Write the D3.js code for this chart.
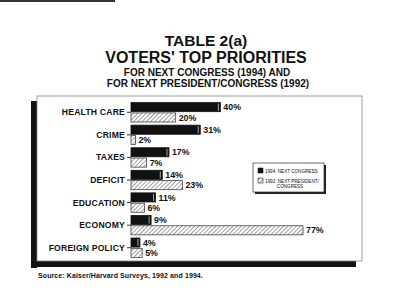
<!DOCTYPE html>
<html>
  <head>
    <meta charset="utf-8" />
    <title>Voters' Top Priorities</title>
    <script src="https://d3js.org/d3.v7.min.js"></script>
    <style>
      body { margin: 0; background: #fff; }
      text { font-family: "Liberation Sans", Arial, sans-serif; font-weight: bold; fill: #111; }
    </style>
  </head>
  <body>
    <svg id="chart"></svg>
    <script>
      var categories = ["HEALTH CARE", "CRIME", "TAXES", "DEFICIT", "EDUCATION", "ECONOMY", "FOREIGN POLICY"];
      var congress1994 = [40, 31, 17, 14, 11, 9, 4];
      var president1992 = [20, 2, 7, 23, 6, 77, 5];
      var seriesKeys = ["1994", "1992"];
      var legendLabels = [["1994: NEXT CONGRESS"], ["1992: NEXT PRESIDENT/", "CONGRESS"]];

      var width = 400, height = 306;
      var svg = d3.select("#chart").attr("width", width).attr("height", height);

      var defs = svg.append("defs");
      var pat = defs.append("pattern")
        .attr("id", "hatch")
        .attr("patternUnits", "userSpaceOnUse")
        .attr("width", 3).attr("height", 3)
        .attr("patternTransform", "rotate(45)");
      pat.append("rect").attr("width", 3).attr("height", 3).attr("fill", "#fff");
      pat.append("line").attr("x1", 0).attr("y1", 0).attr("x2", 0).attr("y2", 3)
        .attr("stroke", "#444").attr("stroke-width", 1);

      // titles
      svg.append("text").attr("x", 206).attr("y", 46).attr("text-anchor", "middle")
        .style("font-size", "15.5px").text("TABLE 2(a)");
      svg.append("text").attr("x", 206).attr("y", 63).attr("text-anchor", "middle")
        .style("font-size", "16px").text("VOTERS' TOP PRIORITIES");
      svg.append("text").attr("x", 207).attr("y", 76).attr("text-anchor", "middle")
        .style("font-size", "10px").text("FOR NEXT CONGRESS (1994) AND");
      svg.append("text").attr("x", 208).attr("y", 87).attr("text-anchor", "middle")
        .style("font-size", "10px").text("FOR NEXT PRESIDENT/CONGRESS (1992)");

      // frame with shadow
      svg.append("rect").attr("x", 31).attr("y", 101).attr("width", 6).attr("height", 167).attr("fill", "#111");
      svg.append("rect").attr("x", 31).attr("y", 261).attr("width", 325).attr("height", 6).attr("fill", "#111");
      svg.append("rect").attr("x", 37).attr("y", 96).attr("width", 325).attr("height", 165)
        .attr("fill", "#fff").attr("stroke", "#888").attr("stroke-width", 0.8);

      // scan smudge at top
      svg.append("rect").attr("x", 0).attr("y", 0).attr("width", 115).attr("height", 2).attr("fill", "#333");

      var x = d3.scaleLinear().domain([0, 77]).range([131, 303]);
      var y = d3.scaleBand().domain(categories).range([101, 259]).paddingInner(0.14).paddingOuter(0.07);
      var ySub = d3.scaleBand().domain(seriesKeys).range([0, y.bandwidth()]).paddingInner(0.12);

      var yAxis = d3.axisLeft(y).tickSize(4).tickPadding(2);
      var gy = svg.append("g").attr("transform", "translate(" + x(0) + ",0)").call(yAxis);
      gy.select(".domain").remove();
      gy.selectAll(".tick line").attr("stroke", "#333");
      gy.selectAll(".tick text").style("font-size", "8.6px").style("font-family", "Liberation Sans, Arial, sans-serif")
        .style("letter-spacing", "0.2px")
        .attr("fill", "#111").attr("dy", "0.35em");

      var rows = categories.map(function(c, i) {
        return [
          {cat: c, key: "1994", v: congress1994[i]},
          {cat: c, key: "1992", v: president1992[i]}
        ];
      });
      var flat = [].concat.apply([], rows);

      var bars = svg.append("g").selectAll("g").data(flat).enter().append("g");

      bars.append("rect")
        .attr("x", x(0))
        .attr("y", function(d) { return y(d.cat) + ySub(d.key); })
        .attr("width", function(d) { return x(d.v) - x(0); })
        .attr("height", ySub.bandwidth())
        .attr("fill", function(d) { return d.key === "1994" ? "#111" : "url(#hatch)"; })
        .attr("stroke", function(d) { return d.key === "1994" ? "#111" : "#444"; })
        .attr("stroke-width", 0.8);

      // light edge near the end of the solid bars
      bars.filter(function(d) { return d.key === "1994"; }).append("line")
        .attr("x1", function(d) { return x(d.v) - 2; })
        .attr("x2", function(d) { return x(d.v) - 2; })
        .attr("y1", function(d) { return y(d.cat) + ySub(d.key) + 1; })
        .attr("y2", function(d) { return y(d.cat) + ySub(d.key) + ySub.bandwidth() - 1; })
        .attr("stroke", "#ccc").attr("stroke-width", 0.8);

      bars.append("text")
        .attr("x", function(d) { return x(d.v) + 3; })
        .attr("y", function(d) { return y(d.cat) + ySub(d.key) + ySub.bandwidth() / 2; })
        .attr("dy", "0.36em")
        .style("font-size", "8.8px")
        .text(function(d) { return d.v + "%"; });

      // legend
      var lg = svg.append("g").attr("transform", "translate(253,163)");
      lg.append("rect").attr("x", 2).attr("y", 2).attr("width", 71).attr("height", 29).attr("fill", "#222");
      lg.append("rect").attr("width", 71).attr("height", 29).attr("fill", "#fff").attr("stroke", "#333").attr("stroke-width", 0.7);
      seriesKeys.forEach(function(k, i) {
        var yy = 5 + i * 10;
        lg.append("rect").attr("x", 5).attr("y", yy).attr("width", 5).attr("height", 5)
          .attr("fill", k === "1994" ? "#111" : "url(#hatch)").attr("stroke", "#222").attr("stroke-width", 0.6);
        legendLabels[i].forEach(function(t, j) {
          lg.append("text").attr("x", j === 0 ? 12 : 37).attr("y", yy + 4.5 + j * 5)
            .attr("text-anchor", j === 0 ? "start" : "middle")
            .style("font-size", "4.6px").style("font-weight", "normal").text(t);
        });
      });

      // source
      svg.append("text").attr("x", 38).attr("y", 278).style("font-size", "7px")
        .style("letter-spacing", "0.1px")
        .text("Source:   Kaiser/Harvard Surveys, 1992 and 1994.");
    </script>
  </body>
</html>
